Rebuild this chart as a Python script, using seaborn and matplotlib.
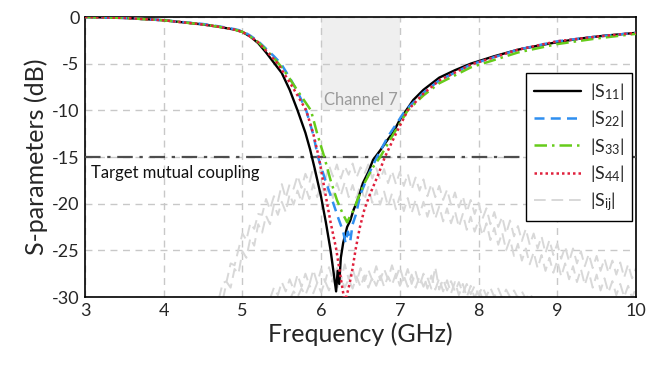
import numpy as np
import pandas as pd
import matplotlib
matplotlib.use("Agg")
import matplotlib.pyplot as plt
import seaborn as sns

# ---------------- data ----------------
f11 = [3.0, 3.5, 4.0, 4.5, 4.7, 4.9, 5.0, 5.1, 5.2, 5.3, 5.4, 5.5, 5.6, 5.7, 5.8, 5.86, 5.92, 6.0, 6.06, 6.12,
       6.16, 6.19, 6.21, 6.23, 6.25, 6.28, 6.33, 6.37, 6.41, 6.47, 6.53, 6.6, 6.66, 6.75, 6.84, 6.92, 7.0, 7.17,
       7.3, 7.5, 7.7, 7.9, 8.2, 8.5, 8.8, 9.0, 9.3, 9.6, 10.0]
s11 = [0.0, -0.1, -0.35, -0.8, -1.05, -1.35, -1.6, -2.1, -2.8, -3.8, -4.9, -6.0, -7.8, -10.0, -12.4, -14.2,
       -16.3, -19.3, -22.0, -25.0, -27.5, -29.4, -27.2, -28.6, -25.8, -24.2, -22.5, -21.8, -20.7, -19.5, -17.8,
       -16.6, -15.3, -14.3, -13.2, -12.3, -11.0, -8.9, -7.8, -6.5, -5.7, -5.0, -4.2, -3.5, -3.0, -2.7, -2.3,
       -2.0, -1.7]

f22 = [3.0, 3.5, 4.0, 4.5, 4.7, 4.9, 5.0, 5.1, 5.2, 5.3, 5.4, 5.49, 5.6, 5.7, 5.81, 5.9, 5.96, 6.05, 6.14, 6.22,
       6.28, 6.31, 6.34, 6.37, 6.4, 6.44, 6.5, 6.6, 6.71, 6.85, 7.07, 7.3, 7.5, 7.9, 8.5, 9.0, 9.5, 10.0]
s22 = [0.0, -0.1, -0.35, -0.75, -1.0, -1.3, -1.5, -2.0, -2.6, -3.4, -4.2, -5.0, -6.5, -8.0, -10.0, -12.6,
       -15.0, -17.4, -19.6, -21.6, -23.0, -24.2, -23.0, -24.0, -22.2, -21.2, -19.0, -16.9, -15.0, -12.8, -10.0,
       -8.1, -6.8, -5.1, -3.5, -2.6, -2.1, -1.7]

f33 = [3.0, 3.5, 4.0, 4.5, 4.7, 4.9, 5.0, 5.1, 5.2, 5.3, 5.4, 5.5, 5.6, 5.7, 5.87, 5.95, 6.04, 6.12, 6.2, 6.27,
       6.33, 6.37, 6.42, 6.46, 6.55, 6.65, 6.75, 6.9, 7.1, 7.3, 7.5, 7.9, 8.5, 9.0, 9.5, 10.0]
s33 = [0.0, -0.1, -0.35, -0.8, -1.05, -1.35, -1.6, -2.1, -2.7, -3.5, -4.4, -5.4, -6.6, -7.9, -10.0, -12.5,
       -15.0, -17.5, -19.6, -21.0, -22.0, -21.3, -20.6, -19.6, -17.8, -16.2, -15.0, -12.8, -10.0, -8.4, -7.1,
       -5.4, -3.8, -2.9, -2.3, -1.8]

f44 = [3.0, 3.5, 4.0, 4.5, 4.7, 4.9, 5.0, 5.1, 5.2, 5.3, 5.45, 5.6, 5.7, 5.81, 5.9, 5.97, 6.04, 6.12, 6.19, 6.25,
       6.3, 6.35, 6.39, 6.44, 6.49, 6.55, 6.62, 6.72, 6.81, 6.95, 7.1, 7.3, 7.5, 7.9, 8.5, 9.0, 9.5, 10.0]
s44 = [0.0, -0.1, -0.35, -0.8, -1.05, -1.35, -1.6, -2.1, -2.7, -3.6, -5.0, -7.0, -8.4, -10.0, -12.5, -15.0,
       -18.3, -22.0, -24.8, -28.0, -30.6, -29.0, -27.4, -24.8, -22.6, -20.6, -19.0, -17.0, -15.0, -12.5, -10.0,
       -8.2, -6.8, -5.1, -3.5, -2.6, -2.1, -1.7]

# mutual coupling curves |Sij| (sampled every 0.05 GHz)
sij_a = [-30.2, -28.5, -28.3, -26.4, -26.6, -24.9, -23.2, -23.9, -22.1, -22.7, -21.1, -21.2, -19.5, -20.6, -19.2,
         -19.8, -17.9, -19.4, -17.9, -18.4,
         -17.0, -18.3, -16.8, -17.8, -16.1, -17.4, -16.2, -17.5, -15.9, -17.1, -15.8, -17.3, -16.0, -16.9, -15.7,
         -17.2, -16.1, -16.8, -15.8, -17.3,
         -16.2, -17.4, -16.3, -17.8, -16.5, -17.9, -16.6, -18.1, -16.8, -18.5, -17.2, -18.6, -17.4, -19.2, -17.9,
         -19.3, -18.1, -19.6, -18.5, -20.1,
         -18.8, -20.4, -19.2, -20.9, -19.6, -21.1, -19.9, -21.6, -20.5, -22.2, -20.9, -22.5, -21.4, -23.2, -21.8,
         -23.5, -22.4, -24.0, -22.7, -24.4,
         -23.2, -24.8, -23.5, -25.3, -23.9, -25.5, -24.3, -25.9, -24.6, -26.2, -24.8, -26.4, -25.1, -26.7, -25.4,
         -26.9, -25.6, -27.2, -25.9, -27.4,
         -26.1, -27.6, -26.3, -27.9, -26.5, -28.0, -26.9]
sij_b = [-30.3, -28.4, -29.0, -27.0, -27.5, -25.1, -25.8, -23.7, -24.5, -22.2, -23.1, -21.3, -22.2, -20.1, -21.2,
         -19.8, -20.9, -19.0, -20.1, -18.6,
         -19.8, -18.2, -19.5, -17.9, -19.3, -17.8, -19.2, -17.9, -19.4, -17.8, -19.1, -17.7, -19.3, -18.0, -19.4,
         -17.9, -19.6, -18.2, -19.9, -18.5,
         -20.1, -18.7, -20.3, -18.9, -20.6, -19.2, -20.8, -19.4, -21.0, -19.6, -21.2, -19.8, -21.4, -20.0, -21.6,
         -20.3, -21.9, -20.5, -22.1, -20.8,
         -22.5, -21.1, -22.8, -21.4, -23.0, -21.8, -23.4, -22.1, -23.9, -22.6, -24.4, -23.1, -25.0, -23.8, -25.6,
         -24.3, -26.1, -24.8, -26.5, -25.2,
         -26.9, -25.5, -27.2, -25.8, -27.4, -26.1, -27.8, -26.4, -28.1, -26.7, -28.4, -27.0, -28.7, -27.3, -29.0,
         -27.6, -29.3, -28.0, -29.5, -28.3,
         -29.8, -28.6, -30.0, -28.8, -30.1, -29.0]
sij_c = [-30.2, -29.0, -29.8, -28.4, -29.4, -28.1, -29.2, -27.6, -28.9, -27.5, -28.7, -27.1, -28.5, -27.0,
         -28.4, -26.8, -28.2, -26.9, -28.3, -26.5, -28.1, -27.0, -28.4, -26.9, -28.3, -27.1, -28.2, -26.7,
         -28.2, -27.0, -28.1, -26.6, -28.0, -26.8, -28.3, -27.0, -28.6, -27.3, -28.8, -27.5, -29.1, -27.7,
         -29.2, -28.0, -29.4, -28.2, -29.6, -28.4, -29.8, -28.6, -30.0, -28.8, -30.1, -29.1, -30.2, -30.3]
sij_d = [-30.3, -29.4, -30.0, -29.1, -29.8, -28.7, -29.6, -28.5, -29.5,
         -28.3, -29.3, -28.0, -29.2, -27.9, -29.0, -28.1, -29.1, -27.8, -28.9,
         -27.7, -29.0, -27.9, -28.8, -27.6, -28.9, -27.8, -28.7, -27.5, -28.8,
         -27.7, -28.9, -27.6, -29.0, -27.8, -28.9, -27.9, -29.1, -26.8, -29.2,
         -28.1, -29.3, -28.3, -29.4, -28.4, -29.6, -28.6, -29.7, -28.8, -29.8,
         -28.9, -29.9, -29.0, -30.0, -29.1, -30.1, -29.2, -30.0, -29.3, -30.1,
         -29.4, -30.2, -29.6, -30.3]
sij_start = [4.70, 4.75, 5.35, 5.60]
sij_stop = [10.0, 10.0, 8.10, 8.70]

labels = [r"|S$_{11}$|", r"|S$_{22}$|", r"|S$_{33}$|", r"|S$_{44}$|", r"|S$_{\mathrm{ij}}$|"]
x_ticks = [3, 4, 5, 6, 7, 8, 9, 10]
y_ticks = [0, -5, -10, -15, -20, -25, -30]
target_level = -15
channel_band = [6.0, 7.0]
channel_top, channel_bottom = 0, -10

# ---------------- style ----------------
sns.set_theme(style="white")
plt.rcParams["font.family"] = ["Lato", "DejaVu Sans"]
plt.rcParams["mathtext.fontset"] = "custom"
plt.rcParams["mathtext.rm"] = "Lato"
plt.rcParams["mathtext.it"] = "Lato:italic"
plt.rcParams["axes.unicode_minus"] = False

fig = plt.figure(figsize=(6.46, 3.65), dpi=100)
ax = fig.add_axes([0.1316, 0.1863, 0.8529, 0.7671])

# channel shading
ax.fill_between(channel_band, channel_bottom, channel_top, color="#efefef", zorder=0, linewidth=0)
ax.text(np.mean(channel_band), -8.9, "Channel 7", color="#9a9a9a", fontsize=12,
        ha="center", va="center", zorder=1)

# Sij curves
gray = "#d8d8d8"
for i, vals in enumerate([sij_a, sij_b, sij_c, sij_d]):
    fr = np.linspace(sij_start[i], sij_stop[i], len(vals))
    df = pd.DataFrame({"f": fr, "s": vals})
    sns.lineplot(data=df, x="f", y="s", ax=ax, color=gray, lw=1.4,
                 linestyle=(0, (6, 3)), sort=False, estimator=None,
                 label=labels[4] if i == 0 else "_nolegend_", zorder=2)

# target line
ax.axhline(target_level, color="#4d4d4d", lw=1.6, linestyle=(0, (7, 3, 1.5, 3)), zorder=3)
ax.text(3.08, -16.7, "Target mutual coupling", fontsize=12, color="#111111",
        ha="left", va="center", zorder=4)

series = [
    (f11, s11, "black", "-", 1.7),
    (f22, s22, "#2f8ff0", (0, (4, 2.5)), 1.8),
    (f33, s33, "#66cc1a", (0, (5, 2, 1, 2)), 1.8),
    (f44, s44, "#e0203c", (0, (1, 1.2)), 1.8),
]
for (fr, vals, col, ls, lw), lab in zip(series, labels[:4]):
    df = pd.DataFrame({"f": fr, "s": vals})
    sns.lineplot(data=df, x="f", y="s", ax=ax, color=col, lw=lw, linestyle=ls,
                 sort=False, estimator=None, label=lab, zorder=5)

ax.set_xlim(3, 10)
ax.set_ylim(-30, 0)
ax.set_xticks(x_ticks)
ax.set_yticks(y_ticks)
ax.set_xticklabels([str(t) for t in x_ticks], fontsize=13)
ax.set_yticklabels([str(t) for t in y_ticks], fontsize=13)
ax.tick_params(axis="both", direction="in", length=4, color="#888888", pad=4)
ax.grid(True, color="#c8c8c8", linestyle=(0, (5, 4)), lw=1.0, zorder=0)
ax.set_axisbelow(True)
for sp in ax.spines.values():
    sp.set_color("black")
    sp.set_linewidth(1.2)
    sp.set_visible(True)

ax.set_xlabel("Frequency (GHz)", fontsize=18, labelpad=3)
ax.set_ylabel("S-parameters (dB)", fontsize=18, labelpad=3)

h, l = ax.get_legend_handles_labels()
order = [l.index(x) for x in labels]
leg = ax.legend([h[i] for i in order], [l[i] for i in order], loc="upper right",
                bbox_to_anchor=(0.993, 0.80), borderaxespad=0, fontsize=13, frameon=True,
                fancybox=False, edgecolor="black", framealpha=1, handlelength=2.6,
                labelspacing=0.35, borderpad=0.45, handletextpad=0.5)
leg.get_frame().set_linewidth(1.0)
leg.set_zorder(10)

fig.savefig("out.png", dpi=100)
